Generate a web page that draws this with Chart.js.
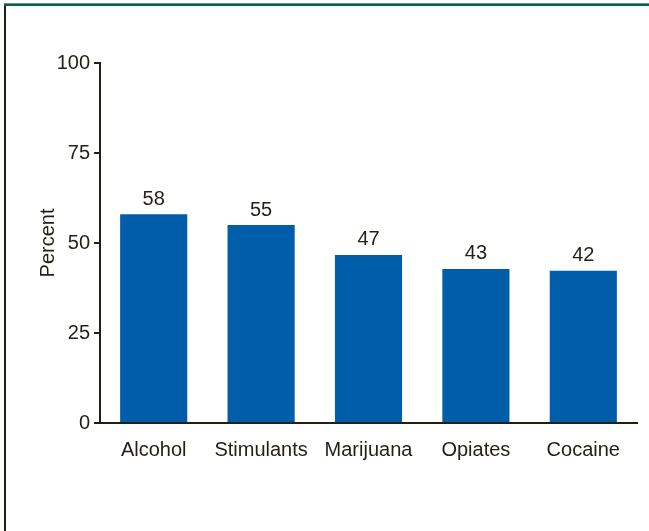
<!DOCTYPE html>
<html>
<head>
<meta charset="utf-8">
<script src="https://cdn.jsdelivr.net/npm/chart.js@4/dist/chart.umd.min.js"></script>
<style>
  html, body { margin: 0; padding: 0; background: #ffffff; }
  #wrap { position: relative; width: 649px; height: 531px; }
</style>
</head>
<body>
<div id="wrap"><canvas id="c" width="649" height="531"></canvas></div>
<script>
const categories = ['Alcohol', 'Stimulants', 'Marijuana', 'Opiates', 'Cocaine'];
const percentValues = [58, 55, 46.7, 42.8, 42.3];
const valueLabels = ['58', '55', '47', '43', '42'];
const yTicks = [0, 25, 50, 75, 100];

const INK = '#231f14';
const BAR = '#005da9';
const FONT = "'Liberation Sans', Arial, Helvetica, sans-serif";

const framePlugin = {
  id: 'frame',
  beforeDraw(chart) {
    const ctx = chart.ctx;
    ctx.save();
    ctx.fillStyle = '#ffffff';
    ctx.fillRect(0, 0, chart.width, chart.height);
    ctx.fillStyle = INK;
    ctx.fillRect(4, 5, 2, chart.height - 5);
    ctx.fillStyle = '#5f9b80';
    ctx.fillRect(4, 3, chart.width - 4, 1);
    ctx.fillStyle = '#00663f';
    ctx.fillRect(4, 4, chart.width - 4, 2);
    ctx.restore();
  }
};

const valueLabelPlugin = {
  id: 'valueLabels',
  afterDatasetsDraw(chart) {
    const ctx = chart.ctx;
    const meta = chart.getDatasetMeta(0);
    ctx.save();
    ctx.font = '20px ' + FONT;
    ctx.fillStyle = INK;
    ctx.textAlign = 'center';
    ctx.textBaseline = 'alphabetic';
    meta.data.forEach((bar, i) => {
      ctx.fillText(valueLabels[i], bar.x, bar.y - 9.5);
    });
    ctx.restore();
  }
};

new Chart(document.getElementById('c'), {
  type: 'bar',
  data: {
    labels: categories,
    datasets: [{
      data: percentValues,
      backgroundColor: BAR,
      borderWidth: 0,
      barPercentage: 0.625,
      categoryPercentage: 1.0
    }]
  },
  options: {
    responsive: false,
    animation: false,
    devicePixelRatio: 1,
    layout: { padding: { top: 63, right: 12, bottom: 0, left: 0 } },
    plugins: {
      legend: { display: false },
      tooltip: { enabled: false }
    },
    scales: {
      x: {
        grid: { display: true, drawOnChartArea: false, drawTicks: false },
        border: { display: true, color: INK, width: 2 },
        ticks: { color: INK, font: { family: FONT, size: 20 }, padding: 15, maxRotation: 0 },
        afterFit(scale) { scale.height = 108; }
      },
      y: {
        min: 0,
        max: 100,
        afterBuildTicks(scale) { scale.ticks = yTicks.map(v => ({ value: v })); },
        grid: { display: true, drawOnChartArea: false, drawTicks: true, tickLength: 6, color: INK, lineWidth: 2 },
        border: { display: true, color: INK, width: 2 },
        ticks: { color: INK, font: { family: FONT, size: 20 }, padding: 4 },
        title: { display: true, text: 'Percent', color: INK, font: { family: FONT, size: 20 }, padding: { top: 36, bottom: 0 } },
        afterFit(scale) { scale.width = 100; }
      }
    }
  },
  plugins: [framePlugin, valueLabelPlugin]
});
</script>
</body>
</html>
